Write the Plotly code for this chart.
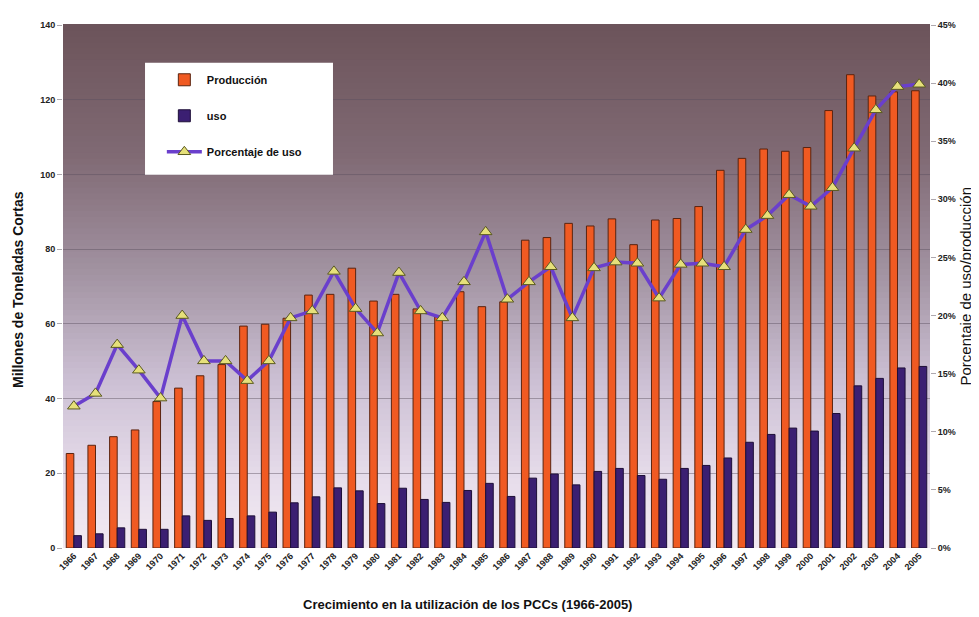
import plotly.graph_objects as go

years = [str(y) for y in range(1966, 2006)]

produccion = [25.3, 27.5, 29.8, 31.6, 39.2, 42.8, 46.1, 49.1, 59.4, 59.9,
              61.5, 67.7, 67.9, 74.9, 66.1, 67.9, 64.0, 61.9, 68.6, 64.6,
              65.9, 82.4, 83.1, 86.9, 86.2, 88.1, 81.2, 87.8, 88.2, 91.4,
              101.1, 104.3, 106.8, 106.2, 107.2, 117.1, 126.7, 121.0, 122.1, 122.4]

uso = [3.3, 3.8, 5.4, 5.0, 5.0, 8.6, 7.4, 7.9, 8.6, 9.6,
       12.1, 13.7, 16.1, 15.3, 11.9, 16.0, 13.0, 12.2, 15.4, 17.3,
       13.8, 18.7, 19.8, 16.9, 20.5, 21.3, 19.4, 18.4, 21.3, 22.1,
       24.1, 28.3, 30.4, 32.1, 31.3, 36.0, 43.4, 45.4, 48.2, 48.6]

porcentaje = [12.2, 13.3, 17.5, 15.3, 12.9, 20.0, 16.1, 16.1, 14.4, 16.1,
              19.8, 20.4, 23.8, 20.6, 18.5, 23.7, 20.4, 19.8, 22.9, 27.2,
              21.4, 22.9, 24.2, 19.8, 24.1, 24.6, 24.5, 21.5, 24.4, 24.5,
              24.2, 27.4, 28.6, 30.4, 29.4, 31.0, 34.4, 37.7, 39.7, 39.9]

left_ticks = [0, 20, 40, 60, 80, 100, 120, 140]
right_ticks = [0, 0.05, 0.10, 0.15, 0.20, 0.25, 0.30, 0.35, 0.40, 0.45]

FONT = "Liberation Sans"

fig = go.Figure()

fig.add_trace(go.Bar(
    x=years, y=produccion, name="Producción", legendgroup="a",
    marker=dict(color="#f05a22", line=dict(color="#5a2410", width=1)),
))
fig.add_trace(go.Bar(
    x=years, y=uso, name="uso", legendgroup="b",
    marker=dict(color="#3b1f72", line=dict(color="#1e0f38", width=1)),
))
fig.add_trace(go.Scatter(
    x=years, y=[p / 100 for p in porcentaje], name="Porcentaje de uso",
    legendgroup="c", yaxis="y2", mode="lines+markers",
    line=dict(color="#6a3fcc", width=3.5),
    marker=dict(symbol="triangle-up", size=11, color="#e6e07a",
                line=dict(color="#5a5a20", width=1)),
))

# gradient background for the plot area
def lerp(c1, c2, t):
    return tuple(int(round(a + (b - a) * t)) for a, b in zip(c1, c2))

stops = [(0.0, (243, 234, 241)), (0.12, (232, 222, 236)), (0.32, (204, 192, 212)),
         (0.52, (163, 148, 163)), (0.75, (128, 106, 116)), (1.0, (108, 84, 90))]
shapes = []
N = 90
for i in range(N):
    y0 = i / N
    y1 = (i + 1) / N
    ym = (y0 + y1) / 2
    for k in range(len(stops) - 1):
        if stops[k][0] <= ym <= stops[k + 1][0]:
            t = (ym - stops[k][0]) / (stops[k + 1][0] - stops[k][0])
            c = lerp(stops[k][1], stops[k + 1][1], t)
            break
    shapes.append(dict(type="rect", xref="paper", yref="paper", x0=0, x1=1,
                       y0=y0, y1=y1 + 0.002, line=dict(width=0),
                       fillcolor="rgb(%d,%d,%d)" % c, layer="below"))
# white legend box
shapes.append(dict(type="rect", xref="paper", yref="paper",
                   x0=0.0946, x1=0.3114, y0=0.7135, y1=0.928,
                   fillcolor="white", line=dict(width=0), layer="above"))

# page body has an 8px margin: figure is sized so the plot lands where the reference has it
fig.update_layout(
    width=971, height=609,
    margin=dict(l=55, r=49, t=13, b=69),
    paper_bgcolor="white", plot_bgcolor="rgba(0,0,0,0)",
    font=dict(family=FONT, color="#111111"),
    barmode="group", bargap=0.3, bargroupgap=0,
    shapes=shapes,
    showlegend=True,
    legend=dict(x=0.114, y=0.923, xanchor="left", yanchor="top",
                bgcolor="rgba(0,0,0,0)", borderwidth=0,
                font=dict(family=FONT, size=11, weight="bold", color="#111"),
                tracegroupgap=17, itemwidth=35, traceorder="grouped"),
    xaxis=dict(type="category", range=[-0.5, 39.5], tickangle=-45,
               showgrid=False, zeroline=False, showline=False, ticks="",
               tickfont=dict(family=FONT, size=9, weight="bold", color="#222")),
    yaxis=dict(range=[0, 140], tickvals=left_ticks, showgrid=True,
               gridcolor="rgba(90,80,95,0.45)", gridwidth=1, zeroline=False,
               ticks="outside", ticklen=5, tickcolor="rgba(120,110,120,0.6)",
               tickfont=dict(family=FONT, size=9, weight="bold", color="#222")),
    yaxis2=dict(range=[0, 0.45], tickvals=right_ticks, tickformat=".0%",
                overlaying="y", side="right", showgrid=False, zeroline=False,
                ticks="outside", ticklen=5, tickcolor="rgba(120,110,120,0.6)",
                tickfont=dict(family=FONT, size=9, weight="bold", color="#222")),
    annotations=[
        dict(text="Crecimiento en la utilización de los PCCs (1966-2005)",
             xref="paper", yref="paper", x=0.467, y=-0.108, yanchor="middle",
             showarrow=False,
             font=dict(family=FONT, size=13, weight="bold", color="#111")),
        dict(text="Millones de Toneladas Cortas", textangle=-90,
             xref="paper", yref="paper", x=-0.052, y=0.495, xanchor="center",
             yanchor="middle", showarrow=False,
             font=dict(family=FONT, size=14, weight="bold", color="#111")),
        dict(text="Porcentaje de uso/producción", textangle=-90,
             xref="paper", yref="paper", x=1.0415, y=0.5, xanchor="center",
             yanchor="middle", showarrow=False,
             font=dict(family=FONT, size=15, color="#111")),
    ],
)

fig.write_html("out.html")
